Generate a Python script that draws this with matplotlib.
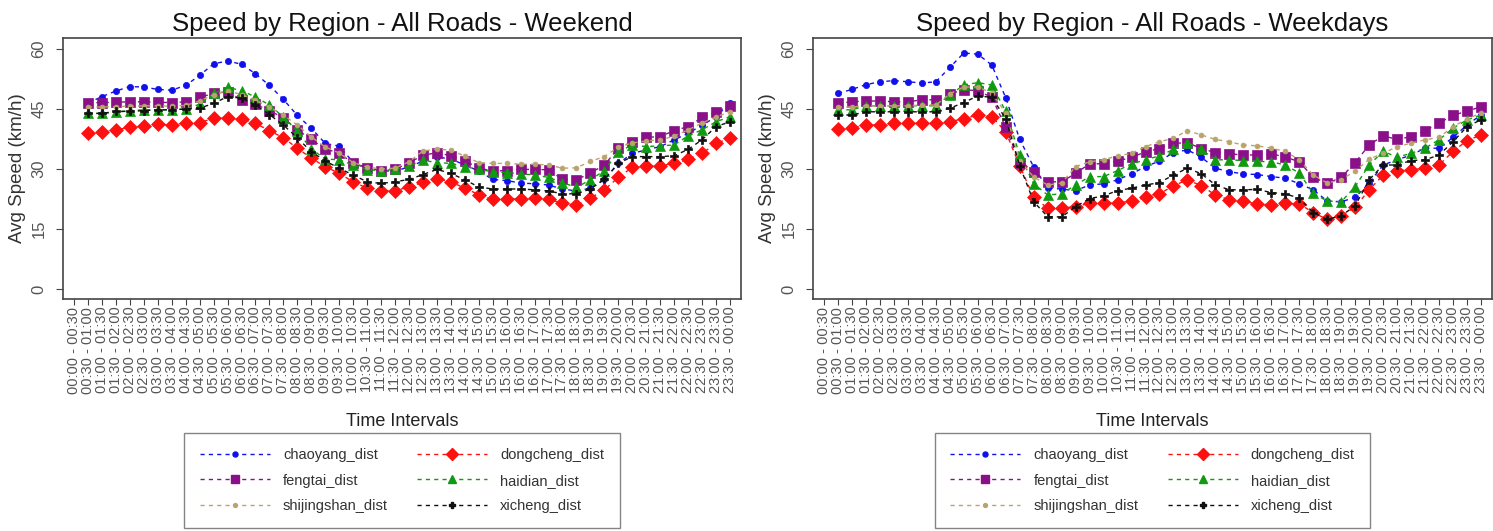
import numpy as np
import matplotlib
matplotlib.use('Agg')
import matplotlib.pyplot as plt
from matplotlib.lines import Line2D

plt.rcParams['font.family'] = ['Liberation Sans', 'DejaVu Sans']

nan = np.nan

# half-hour slots, first slot has no reading
starts = ['%02d:%02d' % (h, m) for h in range(24) for m in (0, 30)]
intervals = [starts[i] + ' - ' + starts[(i + 1) % 48] for i in range(48)]

districts = ['chaoyang_dist', 'dongcheng_dist', 'fengtai_dist',
             'haidian_dist', 'shijingshan_dist', 'xicheng_dist']

chaoyang_we = [nan, 46.5, 48.1, 49.5, 50.6, 50.5, 49.9, 49.7, 50.9, 53.4, 56.3, 57.0, 56.2, 53.8, 50.9, 47.4,
               43.4, 40.2, 36.4, 35.7, 31.7, 30.2, 29.5, 29.5, 30.5, 32.0, 33.0, 32.5, 31.0, 29.5, 27.4, 27.1,
               26.5, 26.3, 26.0, 25.0, 24.5, 25.2, 27.4, 31.4, 33.9, 34.8, 35.6, 37.3, 38.9, 41.0, 43.0, 46.6]
dongcheng_we = [nan, 38.9, 39.2, 39.8, 40.4, 40.8, 41.2, 41.0, 41.6, 41.6, 42.7, 42.7, 42.5, 41.4, 39.6, 37.8,
                35.2, 32.7, 30.6, 28.9, 26.8, 25.2, 24.6, 24.6, 25.5, 26.7, 27.6, 26.8, 25.2, 23.6, 22.4, 22.5,
                22.5, 22.7, 22.4, 21.5, 20.9, 22.7, 24.8, 27.9, 30.4, 30.8, 30.8, 31.4, 32.4, 33.9, 36.4, 37.7]
fengtai_we = [nan, 46.6, 46.6, 46.7, 46.8, 46.8, 46.7, 46.6, 46.8, 47.9, 48.9, 49.3, 47.3, 46.2, 44.6, 42.8,
              39.8, 37.4, 35.0, 34.0, 31.4, 30.2, 29.6, 29.9, 31.6, 33.4, 34.1, 33.3, 32.1, 30.2, 29.5, 29.6,
              29.9, 29.9, 29.8, 27.4, 27.3, 29.0, 31.0, 35.2, 36.8, 37.9, 38.1, 39.6, 40.6, 42.9, 44.3, 45.8]
haidian_we = [nan, 43.9, 43.9, 44.2, 44.6, 44.8, 44.8, 44.8, 45.0, 46.2, 48.9, 50.4, 49.6, 48.0, 46.0, 43.0,
              39.5, 35.0, 32.5, 32.3, 31.0, 29.8, 29.6, 29.9, 30.7, 32.2, 31.6, 31.4, 30.6, 29.9, 29.3, 29.1,
              28.8, 28.5, 27.9, 26.6, 25.4, 27.3, 29.6, 34.3, 36.0, 35.6, 35.8, 36.0, 38.3, 39.8, 41.8, 43.1]
shijingshan_we = [nan, 45.5, 45.5, 45.6, 45.7, 45.8, 45.8, 45.7, 45.9, 47.0, 48.6, 49.6, 48.6, 47.2, 45.5, 43.5,
                  41.0, 38.0, 35.5, 34.0, 31.6, 30.5, 30.0, 30.2, 31.8, 34.5, 35.0, 34.7, 33.2, 31.6, 31.4, 31.4,
                  31.2, 31.2, 31.0, 30.2, 30.3, 31.9, 33.1, 35.5, 36.5, 37.0, 37.3, 38.2, 39.8, 41.5, 43.0, 44.3]
xicheng_we = [nan, 43.9, 43.9, 44.4, 44.4, 44.6, 44.8, 44.8, 45.0, 45.2, 46.4, 48.1, 47.7, 46.0, 43.6, 41.0,
              37.8, 34.3, 32.0, 30.2, 28.5, 26.8, 26.4, 26.8, 27.4, 28.6, 29.9, 28.9, 27.3, 25.5, 25.0, 25.0,
              25.0, 24.8, 24.5, 23.8, 23.8, 25.0, 27.4, 31.4, 33.1, 33.1, 33.1, 33.3, 34.9, 37.3, 40.6, 41.8]

chaoyang_wd = [nan, 48.9, 49.9, 51.1, 51.8, 52.1, 51.8, 51.5, 51.8, 55.4, 59.0, 58.7, 56.0, 47.8, 37.4, 30.5,
               25.2, 25.0, 24.6, 26.0, 26.3, 27.3, 28.8, 30.6, 32.0, 34.1, 34.8, 32.9, 30.2, 29.3, 28.8, 28.6,
               28.1, 27.7, 26.3, 24.8, 22.0, 21.8, 22.9, 26.5, 31.0, 32.3, 33.5, 35.2, 35.2, 37.9, 41.0, 43.5]
dongcheng_wd = [nan, 40.0, 40.3, 41.0, 41.0, 41.4, 41.4, 41.4, 41.4, 41.8, 42.6, 43.5, 43.1, 39.3, 30.8, 22.9,
                20.2, 20.2, 20.6, 21.4, 21.6, 21.6, 21.9, 22.9, 23.8, 25.8, 27.3, 25.8, 23.5, 22.3, 21.9, 21.3,
                21.0, 21.4, 21.3, 19.1, 17.4, 18.3, 20.4, 24.8, 28.5, 29.6, 29.8, 30.2, 31.0, 34.4, 37.1, 38.5]
fengtai_wd = [nan, 46.4, 46.8, 47.0, 47.0, 46.8, 46.8, 47.3, 47.3, 48.8, 49.8, 49.6, 47.9, 40.4, 31.5, 29.3,
              26.8, 26.8, 28.9, 31.3, 31.3, 32.0, 32.9, 34.3, 35.1, 36.4, 36.6, 35.1, 34.1, 33.8, 33.5, 33.5,
              33.8, 33.0, 31.8, 27.9, 26.4, 27.9, 31.6, 36.0, 38.3, 37.4, 38.1, 39.6, 41.4, 43.5, 44.4, 45.6]
haidian_wd = [nan, 44.8, 44.8, 45.8, 45.8, 45.8, 45.8, 45.8, 45.8, 48.5, 51.0, 51.6, 51.0, 44.4, 33.5, 26.3,
              23.5, 23.8, 26.0, 28.1, 28.1, 29.6, 31.3, 32.3, 33.3, 34.9, 36.6, 34.9, 32.3, 32.3, 32.1, 31.9,
              31.8, 31.0, 29.0, 23.9, 22.0, 21.8, 25.6, 31.0, 34.4, 33.0, 33.9, 35.2, 37.3, 40.2, 42.3, 43.5]
shijingshan_wd = [nan, 45.5, 45.5, 45.8, 45.8, 45.8, 45.8, 46.0, 46.0, 48.8, 50.5, 50.5, 49.0, 44.0, 32.0, 28.0,
                  26.0, 26.5, 30.6, 31.8, 32.3, 33.3, 33.9, 35.6, 36.8, 37.7, 39.6, 38.5, 37.4, 36.8, 36.0, 35.8,
                  35.2, 34.4, 32.3, 28.5, 26.5, 27.3, 29.5, 32.4, 34.0, 35.5, 36.5, 37.3, 37.9, 40.6, 42.5, 44.0]
xicheng_wd = [nan, 43.5, 43.5, 44.3, 44.3, 44.3, 44.3, 44.3, 44.3, 45.2, 46.6, 48.3, 47.9, 42.6, 30.8, 21.8,
              18.1, 18.0, 20.6, 22.6, 23.3, 24.6, 25.2, 26.0, 26.6, 28.5, 30.2, 28.8, 26.0, 24.8, 24.8, 24.9,
              24.1, 23.8, 22.7, 19.1, 17.4, 18.3, 20.8, 27.3, 31.0, 31.0, 32.1, 32.3, 33.5, 36.8, 40.6, 42.3]

weekend = [chaoyang_we, dongcheng_we, fengtai_we, haidian_we, shijingshan_we, xicheng_we]
weekdays = [chaoyang_wd, dongcheng_wd, fengtai_wd, haidian_wd, shijingshan_wd, xicheng_wd]

lineColors = ['#1010ee', '#ff1010', '#8a108a', '#109a10', '#b9a46c', '#101010']
markerStyles = ['o', 'D', 's', '^', 'o', 'P']
markerSizes = [4.5, 7.5, 6.5, 6.5, 3.5, 6]

textGray = '#555555'
dash = (0, (3, 3))


def drawPanel(ax, series, title):
	x = np.arange(1, len(intervals) + 1)
	for i, vals in enumerate(series):
		ax.plot(x, vals, color=lineColors[i], ls=dash, lw=1.0, marker=markerStyles[i],
			ms=markerSizes[i], mec=lineColors[i], mfc=lineColors[i], mew=0.5, label=districts[i])
	ax.set_xlim(0.21, 48.79)
	ax.set_ylim(-2.5, 62.75)
	ax.set_xticks(x)
	ax.set_xticklabels(intervals, rotation=90, fontsize=10.5, color=textGray)
	ax.set_yticks([0, 15, 30, 45, 60])
	ax.set_yticklabels(['0', '15', '30', '45', '60'], rotation=90, va='center', fontsize=12, color=textGray)
	ax.tick_params(axis='x', length=4, width=0.8, color='#444444', pad=1.5, direction='out')
	ax.tick_params(axis='y', length=5, width=0.8, color='#444444', pad=7, direction='out')
	for s in ax.spines.values():
		s.set_color('#444444')
		s.set_linewidth(1.2)
	ax.set_title(title, fontsize=18.5, color='#111111', pad=5)
	ax.set_xlabel('Time Intervals', fontsize=13, color='#222222', labelpad=14)
	ax.set_ylabel('Avg Speed (km/h)', fontsize=13.5, color='#333333', labelpad=4)

	# legend filled row by row: two districts per row
	order = [0, 2, 4, 1, 3, 5]
	handles = [Line2D([], [], color=lineColors[i], ls=dash, lw=1.0, marker=markerStyles[i],
		ms=markerSizes[i] * 0.8, mec=lineColors[i], mfc=lineColors[i]) for i in order]
	leg = ax.legend(handles, [districts[i] for i in order], ncol=2, loc='upper center',
		bbox_to_anchor=(0.5, -0.513), borderaxespad=0, frameon=True, fancybox=False, fontsize=10.5,
		handlelength=4.8, handletextpad=0.9, columnspacing=2.0, labelspacing=0.78,
		borderpad=1.05, numpoints=1)
	leg.get_frame().set_edgecolor('#666666')
	leg.get_frame().set_linewidth(1.0)
	for t in leg.get_texts():
		t.set_color('#333333')


fig = plt.figure(figsize=(14.93, 5.31), dpi=100)
axLeft = fig.add_axes([63 / 1493, 1 - 299 / 531, 678 / 1493, 261 / 531])
axRight = fig.add_axes([813 / 1493, 1 - 299 / 531, 679 / 1493, 261 / 531])

drawPanel(axLeft, weekend, 'Speed by Region - All Roads - Weekend')
drawPanel(axRight, weekdays, 'Speed by Region - All Roads - Weekdays')

fig.savefig('out.png', dpi=100)
